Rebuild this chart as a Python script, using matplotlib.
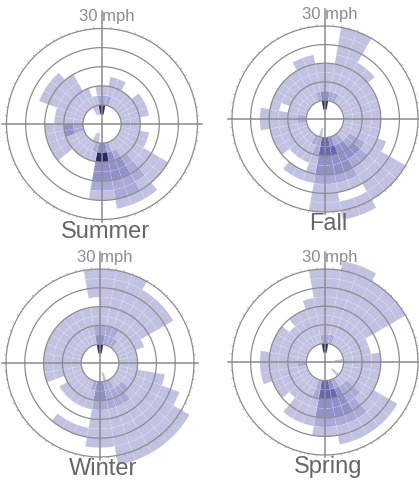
import numpy as np
import matplotlib.pyplot as plt

plt.rcParams['font.family'] = ['Liberation Sans', 'DejaVu Sans']

# 36 wind directions (10 degree sectors, clockwise from north)
directions = np.arange(0, 360, 10)
# speed bins of 3 mph, 0..33 mph
speed_lo = np.arange(0, 33, 3)
rings = [6, 12, 18, 24, 30]

# frequency level per direction, one digit per speed bin (0 = none, 5 = most)
summer = [
    "05210000000", "00211000000", "00111000000", "00110000000",
    "00110000000", "00111000000", "00111000000", "00111000000",
    "00110000000", "00110000000", "00111000000", "00111000000",
    "00111111000", "00111111000", "00112221100", "00123322100",
    "00233322100", "00353321000", "00353321000", "01210000000",
    "01110000000", "00110000000", "00110000000", "00111100000",
    "00111100000", "00231100000", "00231100000", "00111000000",
    "00111000000", "00111110000", "00111110000", "00111110000",
    "00111100000", "01110000000", "01100000000", "05210000000",
]
fall = [
    "05311100000", "00211111110", "00211111110", "00111110000",
    "00111110000", "00111100000", "00111100000", "00111100000",
    "00111100000", "00111100000", "00111100000", "00111110000",
    "00122111110", "00123211110", "00233211110", "00233321011",
    "00343321011", "00443321110", "00443321110", "01221110000",
    "00211010000", "00111010000", "00111000000", "00111100000",
    "00111100000", "00111100000", "00211110000", "00211110000",
    "00110100000", "00111100000", "00111100000", "00111100000",
    "00111100000", "00111110000", "00211110000", "05311100000",
]
winter = [
    "05321111110", "00221111110", "00221111110", "00211111100",
    "00111111100", "00111111100", "00111000000", "00110000000",
    "00110000000", "00110000000", "00111110000", "00111111100",
    "00111111111", "00121111111", "00122111111", "00222111111",
    "01222111111", "00332111100", "00332111100", "00211001000",
    "00111001000", "00111001000", "00111000000", "00111000000",
    "00110000000", "00111100000", "00111100000", "00111100000",
    "00111100000", "00111100000", "00111100000", "00111100000",
    "00111100000", "00111100000", "00111100000", "05321101110",
]
spring = [
    "05211111110", "00211111111", "00111111111", "00111111110",
    "00111111110", "00111111110", "00111000000", "00111000000",
    "01111100000", "00111100000", "00111100000", "00111100000",
    "00111111100", "01122111100", "00122221100", "00233321100",
    "00343321100", "00443321000", "00443321000", "00221110000",
    "00111110000", "00111110000", "00111000000", "00111100000",
    "00111100000", "00111110000", "00211110000", "00111110000",
    "00111100000", "00111100000", "00111100000", "00111000000",
    "00111100000", "00111100000", "00111110000", "05211111110",
]
seasons = ["Summer", "Fall", "Winter", "Spring"]
grids = [summer, fall, winter, spring]

level_colors = ['none', '#c1c1e2', '#aaaad8', '#9090ca', '#6868b0', '#2a2a68']

W, H = 419, 487
fig = plt.figure(figsize=(W / 100, H / 100), dpi=100)

# panel centre (px) and radius of the 30 mph circle (px)
panels = [(102, 124, 95.5), (325, 119, 93), (100, 363, 94), (325, 362, 93)]
rmax = 36
gray = '#8c8c8c'

for name, grid, (cx, cy, R) in zip(seasons, grids, panels):
    half = rmax * R / 30
    ax = fig.add_axes([(cx - half) / W, 1 - (cy + half) / H, 2 * half / W, 2 * half / H],
                      projection='polar')
    ax.set_theta_zero_location('N')
    ax.set_theta_direction(-1)
    ax.set_ylim(0, rmax)
    ax.set_xticks([])
    ax.set_yticks([])
    ax.grid(False)
    ax.spines['polar'].set_visible(False)
    ax.patch.set_alpha(0)

    th, bot, col = [], [], []
    for d, row in zip(directions, grid):
        for s, lv in zip(speed_lo, row):
            if lv != '0':
                th.append(np.radians(d))
                bot.append(s)
                col.append(level_colors[int(lv)])
    ax.bar(th, 3, width=np.radians(10), bottom=bot, align='edge', color=col,
           edgecolor=(1, 1, 1, 0.3), linewidth=0.5, linestyle=(0, (2, 2)), zorder=1)

    t = np.linspace(0, 2 * np.pi, 361)
    for r in rings:
        ax.plot(t, np.full_like(t, r), color=gray, lw=0.9, zorder=2)

    # outer ticks every 5 degrees
    ax.vlines(np.radians(np.arange(0, 360, 5)), 30, 30.6, color='#9a9a9a', lw=0.5, zorder=2)

    # cross axes
    ax.plot([0, 0], [0, 35.5], color=gray, lw=1.1, zorder=3)
    ax.plot([np.pi, np.pi], [0, 30.8], color=gray, lw=1.1, zorder=3)
    ax.plot([np.pi / 2, np.pi / 2], [0, 31.3], color=gray, lw=1.1, zorder=3)
    ax.plot([3 * np.pi / 2, 3 * np.pi / 2], [0, 31.3], color=gray, lw=1.1, zorder=3)

    ax.text(np.radians(2.5), 32.3, "30 mph", ha='center', va='baseline',
            color=gray, fontsize=12, zorder=4)
    ax.text(np.radians(178.5), 35.8, name, ha='center', va='baseline',
            color='#666666', fontsize=17, zorder=4)

fig.savefig('out.png', dpi=100)
